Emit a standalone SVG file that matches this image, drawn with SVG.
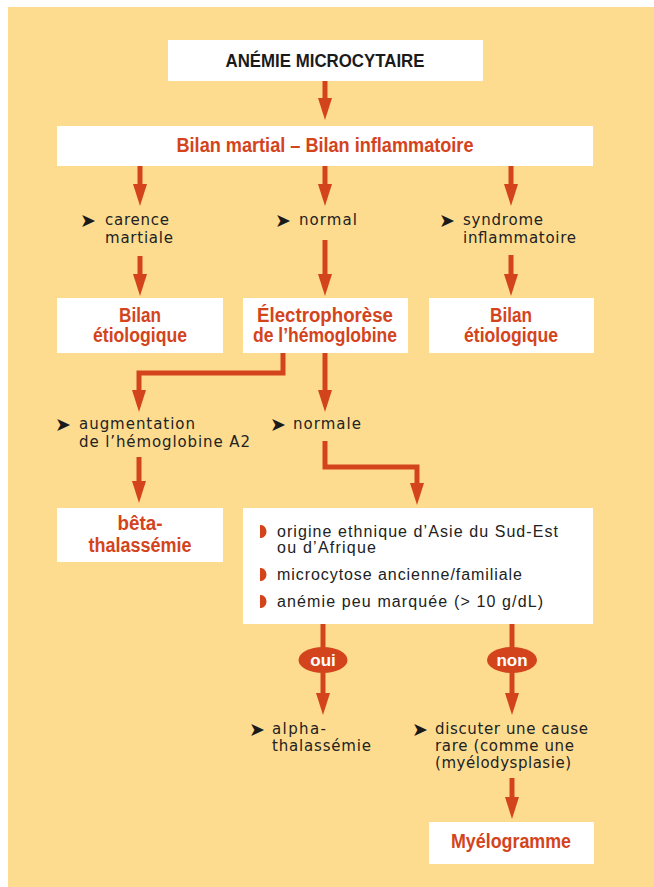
<svg xmlns="http://www.w3.org/2000/svg" width="654" height="887" viewBox="0 0 654 887">
<defs>
<marker id="ah" markerUnits="userSpaceOnUse" viewBox="0 0 22 14" refX="12" refY="7" markerWidth="22" markerHeight="14" orient="auto">
<path d="M0,0 L22,7 L0,14 z" fill="#D4441C"/>
</marker>
</defs>
<style>
.box{fill:#fff}
.hd{font-family:"Liberation Sans",Arial,sans-serif;font-weight:bold;fill:#D4441C;font-size:20px;text-anchor:middle}
.hk{font-family:"Liberation Sans",Arial,sans-serif;font-weight:bold;fill:#1a1a1a;font-size:18.5px;text-anchor:middle}
.lb{font-family:"DejaVu Sans",sans-serif;fill:#222;font-size:15px}
.ar{font-family:"DejaVu Sans",sans-serif;fill:#1a1a1a;font-size:19px}
.li{font-family:"Liberation Sans",Arial,sans-serif;fill:#222;font-size:16px}
.cn{fill:none;stroke:#D4441C;stroke-width:5;marker-end:url(#ah)}
.ov{fill:#D4441C}
.ot{font-family:"Liberation Sans",Arial,sans-serif;font-weight:bold;fill:#fff;font-size:17px;text-anchor:middle}
</style>
<rect x="8" y="7" width="646" height="880" fill="#FDDC8F"/>

<g id="connectors">
<path class="cn" d="M325,81 V110"/>
<path class="cn" d="M140,166 V196"/>
<path class="cn" d="M325,166 V196"/>
<path class="cn" d="M511,166 V196"/>
<path class="cn" d="M140,256 V286"/>
<path class="cn" d="M325,240 V286"/>
<path class="cn" d="M511,255 V286"/>
<path class="cn" d="M283,353 V373 H139 V402"/>
<path class="cn" d="M325,353 V402"/>
<path class="cn" d="M139,457 V493"/>
<path class="cn" d="M325,441 V467 H417 V495"/>
<path class="cn" d="M323,624 V705"/>
<path class="cn" d="M512,624 V705"/>
<path class="cn" d="M512,778 V809"/>
</g>

<g id="n-anemie">
<rect class="box" x="168" y="40" width="315" height="41"/>
<text class="hk" x="325" y="67" textLength="199" lengthAdjust="spacingAndGlyphs">ANÉMIE MICROCYTAIRE</text>
</g>

<g id="n-bilan">
<rect class="box" x="57" y="126" width="536" height="40"/>
<text class="hd" x="325" y="152" textLength="297" lengthAdjust="spacingAndGlyphs">Bilan martial – Bilan inflammatoire</text>
</g>

<g id="l-carence">
<text class="ar" x="80" y="227">➤</text>
<text class="lb" x="105" y="225" textLength="64">carence</text>
<text class="lb" x="105" y="242.5" textLength="68">martiale</text>
</g>
<g id="l-normal">
<text class="ar" x="275" y="227">➤</text>
<text class="lb" x="299" y="225" textLength="58">normal</text>
</g>
<g id="l-syndrome">
<text class="ar" x="439" y="227">➤</text>
<text class="lb" x="463" y="225" textLength="80">syndrome</text>
<text class="lb" x="463" y="242.5" textLength="113">inflammatoire</text>
</g>

<g id="n-etio1">
<rect class="box" x="57" y="298" width="166" height="55"/>
<text class="hd" x="140" y="322" textLength="42" lengthAdjust="spacingAndGlyphs">Bilan</text>
<text class="hd" x="140" y="342" textLength="94" lengthAdjust="spacingAndGlyphs">étiologique</text>
</g>
<g id="n-electro">
<rect class="box" x="243" y="298" width="165" height="55"/>
<text class="hd" x="325" y="322" textLength="136" lengthAdjust="spacingAndGlyphs">Électrophorèse</text>
<text class="hd" x="325" y="342" textLength="144" lengthAdjust="spacingAndGlyphs">de l’hémoglobine</text>
</g>
<g id="n-etio2">
<rect class="box" x="429" y="298" width="165" height="55"/>
<text class="hd" x="511" y="322" textLength="42" lengthAdjust="spacingAndGlyphs">Bilan</text>
<text class="hd" x="511" y="342" textLength="94" lengthAdjust="spacingAndGlyphs">étiologique</text>
</g>

<g id="l-augm">
<text class="ar" x="55" y="431">➤</text>
<text class="lb" x="79" y="429" textLength="116">augmentation</text>
<text class="lb" x="79" y="446.5" textLength="171">de l’hémoglobine A2</text>
</g>
<g id="l-normale">
<text class="ar" x="270" y="431">➤</text>
<text class="lb" x="293" y="429" textLength="68">normale</text>
</g>

<g id="n-beta">
<rect class="box" x="57" y="508" width="166" height="54"/>
<text class="hd" x="140" y="530" textLength="45" lengthAdjust="spacingAndGlyphs">bêta-</text>
<text class="hd" x="140" y="552" textLength="103" lengthAdjust="spacingAndGlyphs">thalassémie</text>
</g>

<g id="n-criteres">
<rect class="box" x="243" y="508" width="350" height="116"/>
<path class="ov" d="M260,525 H261 A5.5,6.5 0 0 1 261,538 H260 Z"/>
<path class="ov" d="M260,568 H261 A5.5,6.5 0 0 1 261,581 H260 Z"/>
<path class="ov" d="M260,595 H261 A5.5,6.5 0 0 1 261,608 H260 Z"/>
<text class="li" x="277" y="537" textLength="281">origine ethnique d’Asie du Sud-Est</text>
<text class="li" x="277" y="553" textLength="99">ou d’Afrique</text>
<text class="li" x="277" y="580" textLength="245">microcytose ancienne/familiale</text>
<text class="li" x="277" y="607" textLength="266">anémie peu marquée (&gt; 10 g/dL)</text>
</g>

<g id="e-oui">
<ellipse class="ov" cx="323" cy="660" rx="24.5" ry="13"/>
<text class="ot" x="323" y="666">oui</text>
</g>
<g id="e-non">
<ellipse class="ov" cx="512" cy="660" rx="25" ry="13"/>
<text class="ot" x="512" y="666">non</text>
</g>

<g id="l-alpha">
<text class="ar" x="249" y="736">➤</text>
<text class="lb" x="272" y="734" textLength="54">alpha-</text>
<text class="lb" x="272" y="751" textLength="99">thalassémie</text>
</g>
<g id="l-discuter">
<text class="ar" x="412" y="736">➤</text>
<text class="lb" x="435" y="734" textLength="153">discuter une cause</text>
<text class="lb" x="435" y="751" textLength="139">rare (comme une</text>
<text class="lb" x="435" y="768" textLength="136">(myélodysplasie)</text>
</g>

<g id="n-myelo">
<rect class="box" x="429" y="822" width="165" height="42"/>
<text class="hd" x="511" y="848" textLength="120" lengthAdjust="spacingAndGlyphs">Myélogramme</text>
</g>
</svg>
